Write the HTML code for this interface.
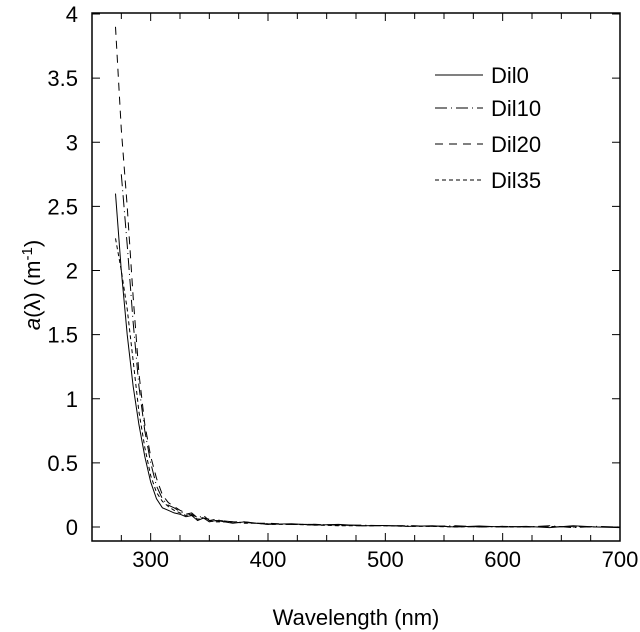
<!DOCTYPE html>
<html><head><meta charset="utf-8"><style>
html,body{margin:0;padding:0;background:#fff;}
svg{display:block;font-family:"Liberation Sans",Arial,sans-serif;}
</style></head><body>
<svg id="chart" width="640" height="632" viewBox="0 0 640 632" xmlns="http://www.w3.org/2000/svg">
<g id="plot"></g>
<text x="356" y="625" font-size="22" text-anchor="middle">Wavelength (nm)</text>
<text transform="translate(40,285) rotate(-90)" font-size="22" text-anchor="middle"><tspan font-style="italic">a</tspan>(λ) (m<tspan dy="-8" font-size="15">-1</tspan><tspan dy="8">)</tspan></text>
<g id="legend"></g>
</svg>
<script>
const wl = [270,275,280,285,290,295,300,305,310,315,320,325,330,335,340,345,350,355,360,370,380,390,400,420,440,460,480,500,520,540,560,580,600,620,640,660,680,700];
const dil0 = [2.6,2.0,1.5,1.1,0.8,0.55,0.35,0.22,0.15,0.13,0.11,0.1,0.08,0.09,0.05,0.07,0.04,0.05,0.045,0.03,0.04,0.03,0.02,0.025,0.015,0.02,0.01,0.012,0.005,0.01,0.0,0.008,0.0,0.005,-0.005,0.01,0.0,-0.005];
const dil10 = [null,2.75,2.2,1.6,1.1,0.75,0.5,0.32,0.22,0.17,0.15,0.12,0.1,0.11,0.07,0.09,0.05,0.06,0.05,0.04,0.035,0.03,0.025,0.02,0.02,0.015,0.015,0.01,0.01,0.005,0.01,0.0,0.005,0.0,0.01,-0.005,0.005,0.0];
const dil20 = [3.9,3.1,2.5,1.8,1.2,0.8,0.55,0.38,0.25,0.19,0.16,0.13,0.11,0.09,0.08,0.07,0.06,0.05,0.05,0.04,0.04,0.03,0.03,0.02,0.02,0.015,0.01,0.01,0.01,0.005,0.005,0.0,0.005,0.0,0.0,0.005,0.0,0.0];
const dil35 = [2.25,2.0,1.7,1.3,0.9,0.62,0.4,0.27,0.2,0.16,0.13,0.11,0.09,0.1,0.06,0.07,0.05,0.04,0.04,0.04,0.03,0.03,0.02,0.02,0.015,0.01,0.01,0.01,0.005,0.005,0.0,0.005,0.0,0.0,0.005,0.0,0.0,0.0];
const xTicks = [300,400,500,600,700];
const yTicks = [0,0.5,1,1.5,2,2.5,3,3.5,4];
const seriesNames = ["Dil0","Dil10","Dil20","Dil35"];
const dashes = ["none","12 4 1 4","8 6","4 3"];

const NS="http://www.w3.org/2000/svg";
const L=92,R=620,T=13,B=541;
function xs(v){return L+(v-250)*(R-L)/450;}
function ys(v){return 527-v*128.25;}
const plot=document.getElementById('plot');
function mk(tag,attrs,parent){const e=document.createElementNS(NS,tag);for(const k in attrs)e.setAttribute(k,attrs[k]);parent.appendChild(e);return e;}

const frame=mk('rect',{x:L,y:T,width:R-L,height:B-T,fill:'none',stroke:'#000','stroke-width':1.5},plot);



for(let v=275;v<700;v+=25){
  const major=(v%100===0);
  const len=major?8:6;
  const t1=mk('line',{x1:xs(v),x2:xs(v),y1:B,y2:B-len,stroke:'#000','stroke-width':1},plot);
  
  
  const t2=mk('line',{x1:xs(v),x2:xs(v),y1:T,y2:T+len,stroke:'#000','stroke-width':1},plot);
  
  
}
xTicks.forEach(v=>{
  const t=mk('text',{x:xs(v),y:B+26,'font-size':22,'text-anchor':'middle'},plot);
  t.textContent=v;
  
  
});
yTicks.forEach(v=>{
  const y=ys(v);
  const a=mk('line',{x1:L,x2:L+8,y1:y,y2:y,stroke:'#000','stroke-width':1},plot);
  
  
  const b=mk('line',{x1:R,x2:R-8,y1:y,y2:y,stroke:'#000','stroke-width':1},plot);
  
  
  const t=mk('text',{x:L-14,y:y+8,'font-size':22,'text-anchor':'end'},plot);
  t.textContent=v;
  
  
});

const allSeries=[dil0,dil10,dil20,dil35];
allSeries.forEach((s,i)=>{
  let d='';
  s.forEach((v,j)=>{ if(v===null) return; d+=(d?'L':'M')+xs(wl[j]).toFixed(1)+','+ys(v).toFixed(1);});
  const p=mk('path',{d:d,fill:'none',stroke:'#000','stroke-width':1,'stroke-dasharray':dashes[i]},plot);
  
  
});

const leg=document.getElementById('legend');
const ly=[75,108,144,180];
seriesNames.forEach((n,i)=>{
  const l=mk('line',{x1:435,x2:483,y1:ly[i],y2:ly[i],stroke:'#000','stroke-width':1,'stroke-dasharray':dashes[i]},leg);
  
  
  const t=mk('text',{x:491,y:ly[i]+8,'font-size':22},leg);
  t.textContent=n;
  
  
});
</script>
</body></html>
